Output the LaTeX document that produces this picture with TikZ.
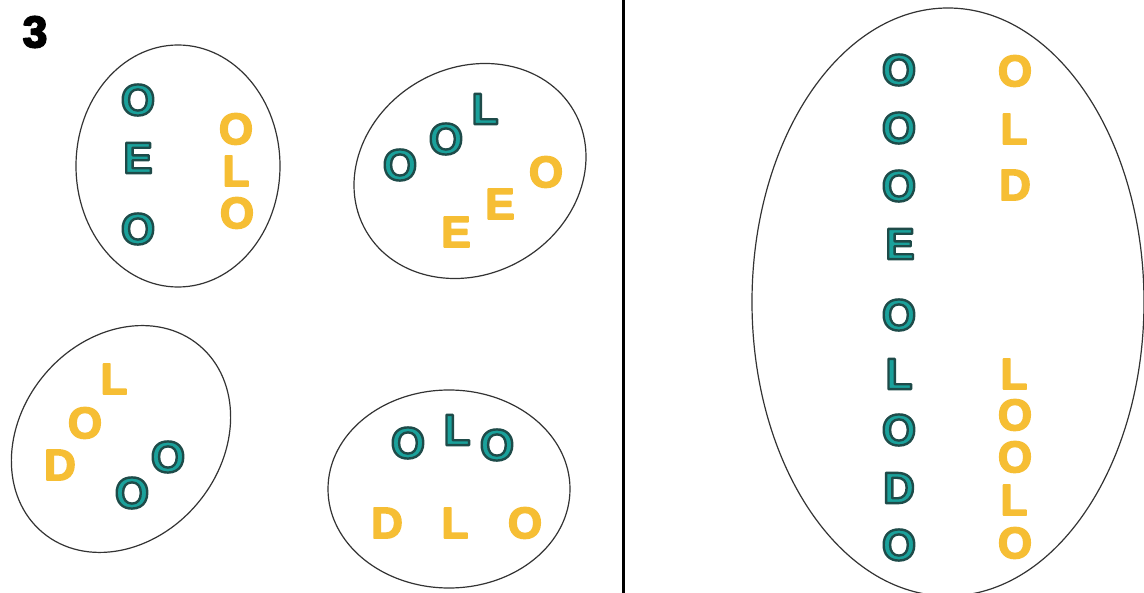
\documentclass[tikz,border=0pt]{standalone}
\usepackage{fontspec}
\setmainfont{Liberation Sans}
\definecolor{tealL}{HTML}{1AA19B}
\definecolor{yel}{HTML}{F6BE34}
\definecolor{ellgray}{HTML}{333333}
% outlined text: fill, then stroke with the given RGB colour and width
\newcommand\olet[3]{\special{pdf:code q #1 RG #2 w 1 j 2 Tr}#3\special{pdf:code Q}}
\newcommand\tlet[1]{\olet{0.118 0.294 0.286}{2.4}{#1}}
\newcommand\ylet[1]{\olet{0.965 0.745 0.204}{1.6}{#1}}
\begin{document}
\begin{tikzpicture}[x=1pt,y=-1pt,
  ell/.style={draw=ellgray, line width=1.2pt},
  tl/.style={inner sep=0pt, text=tealL, font=\fontsize{44}{44}\selectfont\bfseries},
  yl/.style={inner sep=0pt, text=yel, font=\fontsize{44}{44}\selectfont\bfseries}]
\useasboundingbox (0,0) rectangle (1144,593);
\fill[white] (0,0) rectangle (1144,593);

% divider and number
\draw[line width=3pt] (623,0) -- (623,593);
\node[inner sep=0pt, font=\fontsize{44}{44}\selectfont\bfseries] (n3) at (35,32) {\olet{0 0 0}{2}{3}};

% ellipses
\draw[ell] (178,166) ellipse [x radius=102pt, y radius=121pt];
\draw[ell, rotate around={30:(470,171)}] (470,171) ellipse [x radius=120pt, y radius=103pt];
\draw[ell, rotate around={50:(121,439)}] (121,439) ellipse [x radius=122pt, y radius=100pt];
\draw[ell] (449,489) ellipse [x radius=121pt, y radius=99pt];
\draw[ell] (948,302) ellipse [x radius=196pt, y radius=294pt];

% group 1
\node[tl] (a1) at (138,100) {\tlet{O}};
\node[tl] (a2) at (138,158) {\tlet{E}};
\node[tl] (a3) at (138,229) {\tlet{O}};
\node[yl] (a4) at (236,129) {\ylet{O}};
\node[yl] (a5) at (236,171) {\ylet{L}};
\node[yl] (a6) at (237,213) {\ylet{O}};

% group 2
\node[tl] (b1) at (400,165) {\tlet{O}};
\node[tl] (b2) at (446,139) {\tlet{O}};
\node[tl] (b3) at (485,109) {\tlet{L}};
\node[yl] (b4) at (546,172) {\ylet{O}};
\node[yl] (b5) at (500,204) {\ylet{E}};
\node[yl] (b6) at (456,232) {\ylet{E}};

% group 3
\node[yl] (c1) at (114,379) {\ylet{L}};
\node[yl] (c2) at (85,423) {\ylet{O}};
\node[yl] (c3) at (60,465) {\ylet{D}};
\node[tl] (c4) at (168,457) {\tlet{O}};
\node[tl] (c5) at (132,493) {\tlet{O}};

% group 4
\node[tl] (d1) at (408,443) {\tlet{O}};
\node[tl] (d2) at (457,430) {\tlet{L}};
\node[tl] (d3) at (497,445) {\tlet{O}};
\node[yl] (d4) at (387,523) {\ylet{D}};
\node[yl] (d5) at (455,523) {\ylet{L}};
\node[yl] (d6) at (525,523) {\ylet{O}};

% big group, teal column
\node[tl] (e1) at (899,70) {\tlet{O}};
\node[tl] (e2) at (899,128) {\tlet{O}};
\node[tl] (e3) at (899,186) {\tlet{O}};
\node[tl] (e4) at (900,244) {\tlet{E}};
\node[tl] (e5) at (899,315) {\tlet{O}};
\node[tl] (e6) at (899,374) {\tlet{L}};
\node[tl] (e7) at (899,430) {\tlet{O}};
\node[tl] (e8) at (899,488) {\tlet{D}};
\node[tl] (e9) at (899,545) {\tlet{O}};

% big group, yellow column
\node[yl] (f1) at (1015,71) {\ylet{O}};
\node[yl] (f2) at (1014,129) {\ylet{L}};
\node[yl] (f3) at (1015,185) {\ylet{D}};
\node[yl] (f4) at (1014,374) {\ylet{L}};
\node[yl] (f5) at (1015,415) {\ylet{O}};
\node[yl] (f6) at (1015,457) {\ylet{O}};
\node[yl] (f7) at (1014,500) {\ylet{L}};
\node[yl] (f8) at (1015,543) {\ylet{O}};
\end{tikzpicture}
\end{document}
